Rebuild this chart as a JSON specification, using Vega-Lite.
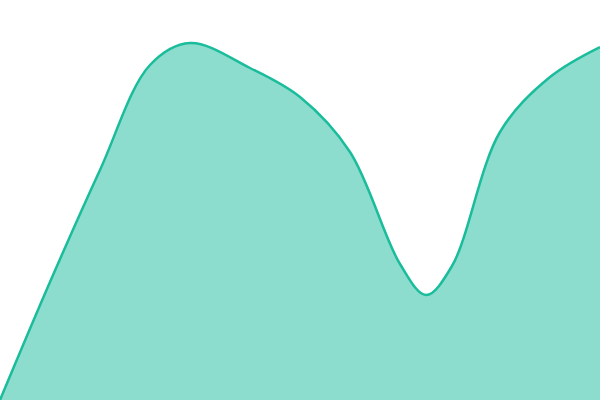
{
  "$schema": "https://vega.github.io/schema/vega-lite/v6.json",
  "width": 600,
  "height": 400,
  "padding": 0,
  "autosize": {"type": "none"},
  "data": {
    "values": [
      {"x": 0, "v": 0},
      {"x": 50, "v": 118},
      {"x": 100, "v": 230},
      {"x": 150, "v": 335},
      {"x": 190, "v": 357},
      {"x": 250, "v": 332},
      {"x": 300, "v": 303},
      {"x": 350, "v": 248},
      {"x": 400, "v": 136},
      {"x": 426, "v": 105},
      {"x": 452, "v": 134},
      {"x": 500, "v": 268},
      {"x": 550, "v": 323},
      {"x": 600, "v": 353}
    ]
  },
  "mark": {
    "type": "area",
    "interpolate": "catmull-rom",
    "color": "#1abc9c",
    "fillOpacity": 0.5,
    "line": {"color": "#1abc9c", "strokeWidth": 2.5}
  },
  "encoding": {
    "x": {"field": "x", "type": "quantitative", "scale": {"domain": [0, 600], "nice": false}, "axis": null},
    "y": {"field": "v", "type": "quantitative", "scale": {"domain": [0, 400], "nice": false}, "axis": null}
  },
  "config": {"view": {"stroke": null}}
}
